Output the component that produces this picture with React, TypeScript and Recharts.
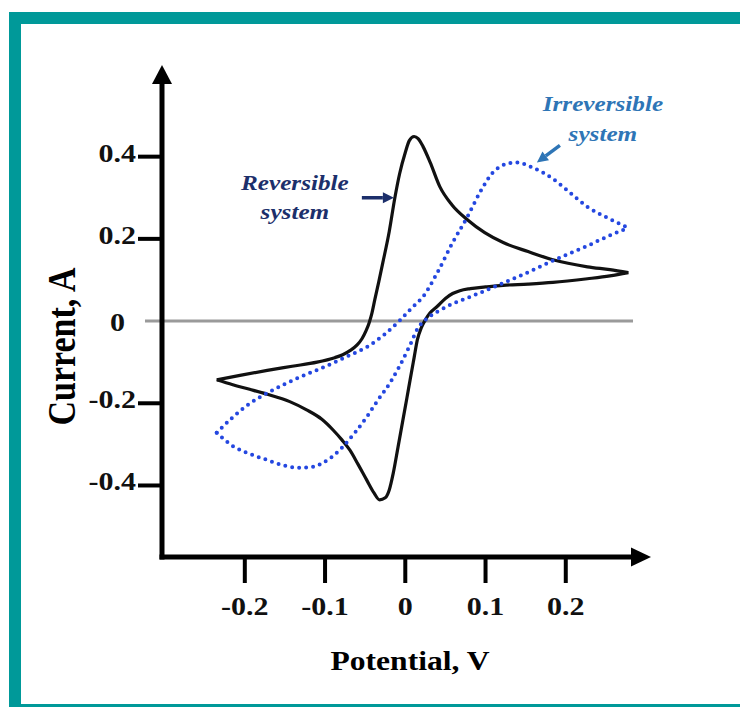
import React from "react";
import { Label, Line, LineChart, ReferenceDot, ReferenceLine, XAxis, YAxis } from "recharts";

// Reversible couple, anodic (forward) sweep: potential in V, current in A
const revAnodicV = [-0.235, -0.206, -0.172, -0.141, -0.11, -0.088, -0.078, -0.069, -0.06, -0.054, -0.049, -0.045, -0.0415, -0.038, -0.033, -0.028, -0.02, -0.013, -0.007, 0.0, 0.005, 0.011, 0.016, 0.022, 0.031, 0.043, 0.058, 0.077, 0.099, 0.122, 0.153, 0.184, 0.227, 0.255, 0.278];
const revAnodicI = [-0.143, -0.132, -0.12, -0.11, -0.1, -0.089, -0.082, -0.072, -0.058, -0.043, -0.024, -0.004, 0.02, 0.052, 0.096, 0.142, 0.218, 0.3, 0.359, 0.41, 0.439, 0.449, 0.444, 0.425, 0.386, 0.327, 0.283, 0.247, 0.215, 0.191, 0.169, 0.149, 0.132, 0.125, 0.118];

// Reversible couple, cathodic (return) sweep
const revCathodicV = [-0.235, -0.215, -0.194, -0.172, -0.144, -0.123, -0.104, -0.09, -0.079, -0.069, -0.059, -0.048, -0.039, -0.032, -0.025, -0.02, -0.015, -0.009, -0.003, 0.002, 0.006, 0.011, 0.015, 0.02, 0.025, 0.031, 0.04, 0.05, 0.059, 0.068, 0.081, 0.1, 0.122, 0.153, 0.184, 0.227, 0.255, 0.278];
const revCathodicI = [-0.143, -0.155, -0.166, -0.178, -0.196, -0.216, -0.239, -0.265, -0.289, -0.314, -0.348, -0.387, -0.418, -0.435, -0.43, -0.411, -0.37, -0.306, -0.241, -0.187, -0.143, -0.089, -0.046, -0.016, 0.003, 0.02, 0.036, 0.055, 0.067, 0.074, 0.079, 0.083, 0.087, 0.09, 0.094, 0.103, 0.11, 0.118];

// Irreversible couple, anodic sweep
const irrAnodicV = [-0.235, -0.215, -0.194, -0.172, -0.15, -0.131, -0.11, -0.09, -0.069, -0.048, -0.025, -0.007, 0.008, 0.022, 0.04, 0.059, 0.077, 0.093, 0.109, 0.124, 0.139, 0.159, 0.184, 0.205, 0.227, 0.251, 0.278];
const irrAnodicI = [-0.272, -0.234, -0.201, -0.175, -0.153, -0.136, -0.119, -0.102, -0.083, -0.063, -0.031, 0.001, 0.032, 0.059, 0.118, 0.191, 0.252, 0.313, 0.361, 0.381, 0.386, 0.373, 0.346, 0.313, 0.278, 0.252, 0.227];

// Irreversible couple, cathodic sweep
const irrCathodicV = [-0.235, -0.215, -0.194, -0.172, -0.15, -0.131, -0.116, -0.103, -0.09, -0.078, -0.063, -0.048, -0.034, -0.019, -0.007, 0.006, 0.016, 0.025, 0.04, 0.059, 0.081, 0.114, 0.143, 0.184, 0.227, 0.251, 0.278];
const irrCathodicI = [-0.272, -0.304, -0.323, -0.338, -0.352, -0.357, -0.355, -0.345, -0.328, -0.306, -0.272, -0.233, -0.192, -0.15, -0.109, -0.058, -0.016, 0.003, 0.023, 0.042, 0.059, 0.086, 0.11, 0.147, 0.183, 0.205, 0.227];

const xTicks = [-0.2, -0.1, 0, 0.1, 0.2];
const yTicks = [-0.4, -0.2, 0, 0.2, 0.4];

// where the annotation arrows point (V, A)
const reversibleTip = { v: -0.013, i: 0.3 };
const irreversibleTip = { v: 0.164, i: 0.386 };

const X_DOMAIN: [number, number] = [-0.3032, 0.2925];
const Y_DOMAIN: [number, number] = [-0.574, 0.5865];
const ZERO_LINE: [number, number] = [-0.3244, 0.2838];

const TEAL = "#009999";
const CURVE = "#111111";
const DOTS = "#2447e0";
const NAVY = "#1c2f6b";
const STEEL = "#2e75b6";
const SERIF = "'Liberation Serif', 'Times New Roman', serif";
const STRETCH = 1.2;

const zip = (v: number[], i: number[]) => v.map((x, k) => ({ v: x, i: i[k] }));

const revAnodic = zip(revAnodicV, revAnodicI);
const revCathodic = zip(revCathodicV, revCathodicI);
const irrAnodic = zip(irrAnodicV, irrAnodicI);
const irrCathodic = zip(irrCathodicV, irrCathodicI);

function Arrow({ x1, y1, x2, y2, color }: { x1: number; y1: number; x2: number; y2: number; color: string }) {
  const len = Math.hypot(x2 - x1, y2 - y1);
  const ux = (x2 - x1) / len;
  const uy = (y2 - y1) / len;
  const head = 11;
  const bx = x2 - ux * head;
  const by = y2 - uy * head;
  const px = -uy * 5.5;
  const py = ux * 5.5;
  return (
    <g>
      <line x1={x1} y1={y1} x2={bx} y2={by} stroke={color} strokeWidth={3.5} />
      <polygon points={`${x2},${y2} ${bx + px},${by + py} ${bx - px},${by - py}`} fill={color} />
    </g>
  );
}

function StretchText(props: { x: number; y: number; size: number; color: string; italic?: boolean; anchor?: string; children: React.ReactNode }) {
  const { x, y, size, color, italic, anchor = "middle", children } = props;
  return (
    <text
      transform={`translate(${x}, ${y}) scale(${STRETCH}, 1)`}
      textAnchor={anchor}
      fontFamily={SERIF}
      fontWeight="bold"
      fontStyle={italic ? "italic" : "normal"}
      fontSize={size}
      fill={color}
    >
      {children}
    </text>
  );
}

const renderXTick = (props: any) => {
  const { x, y, payload } = props;
  return (
    <StretchText x={x} y={y + 30} size={25} color="#111">
      {String(payload.value)}
    </StretchText>
  );
};

const renderYTick = (props: any) => {
  const { x, y, payload } = props;
  const zero = payload.value === 0;
  return (
    <g>
      {!zero && <line x1={x + 2} x2={x + 26} y1={y} y2={y} stroke="#000" strokeWidth={4} />}
      <StretchText x={zero ? x - 11 : x} y={zero ? y + 10 : y + 5} size={25} color="#111" anchor="end">
        {String(payload.value)}
      </StretchText>
    </g>
  );
};

const renderXTitle = (props: any) => {
  const { x, y, width, height } = props.viewBox;
  return (
    <text
      transform={`translate(${x + width / 2 + 9}, ${y + height}) scale(1.17, 1)`}
      textAnchor="middle"
      fontFamily={SERIF}
      fontWeight="bold"
      fontSize={27}
      fill="#000"
    >
      Potential, V
    </text>
  );
};

const renderYTitle = (props: any) => {
  const { x, y, height } = props.viewBox;
  return (
    <text
      transform={`translate(${x + 61}, ${y + height / 2 + 28}) scale(${STRETCH}, 1) rotate(-90)`}
      textAnchor="middle"
      dy="0.35em"
      fontFamily={SERIF}
      fontWeight="bold"
      fontSize={34}
      fill="#000"
    >
      Current, A
    </text>
  );
};

const xArrowHead = ({ cx, cy }: any) => (
  <polygon points={`${cx + 11},${cy} ${cx - 9},${cy - 9.5} ${cx - 9},${cy + 9.5}`} fill="#000" />
);

const yArrowHead = ({ cx, cy }: any) => (
  <polygon points={`${cx},${cy - 15} ${cx - 10},${cy + 4} ${cx + 10},${cy + 4}`} fill="#000" />
);

const reversibleNote = ({ cx, cy }: any) => (
  <g>
    <Arrow x1={cx - 33} y1={cy} x2={cx - 1} y2={cy} color={NAVY} />
    <StretchText x={cx - 100} y={cy - 8} size={21} color={NAVY} italic>
      Reversible
    </StretchText>
    <StretchText x={cx - 100} y={cy + 21} size={21} color={NAVY} italic>
      system
    </StretchText>
  </g>
);

const irreversibleNote = ({ cx, cy }: any) => (
  <g>
    <Arrow x1={cx + 23} y1={cy - 17} x2={cx} y2={cy} color={STEEL} />
    <StretchText x={cx + 66} y={cy - 51} size={21} color={STEEL} italic>
      Irreversible
    </StretchText>
    <StretchText x={cx + 66} y={cy - 21} size={21} color={STEEL} italic>
      system
    </StretchText>
  </g>
);

export default function App() {
  return (
    <div style={{ position: "absolute", left: 0, top: 0, width: 740, height: 707, background: "#fff" }}>
      <div
        style={{
          position: "absolute",
          left: 9,
          top: 12,
          width: 731,
          height: 695,
          boxSizing: "border-box",
          borderTop: `12px solid ${TEAL}`,
          borderLeft: `12px solid ${TEAL}`,
          borderBottom: `3px solid ${TEAL}`,
        }}
      />
      <div style={{ position: "absolute", left: 0, top: 0 }}>
        <LineChart width={740} height={707} margin={{ top: 80, right: 100, bottom: 37, left: 0 }}>
          <XAxis
            type="number"
            dataKey="v"
            domain={X_DOMAIN}
            allowDataOverflow
            ticks={xTicks}
            height={113}
            tickSize={26}
            tickMargin={2}
            tickLine={{ stroke: "#000", strokeWidth: 4 }}
            axisLine={{ stroke: "#000", strokeWidth: 5, strokeLinecap: "square" }}
            tick={renderXTick}
          >
            <Label content={renderXTitle} />
          </XAxis>
          <YAxis
            type="number"
            domain={Y_DOMAIN}
            allowDataOverflow
            ticks={yTicks}
            width={162}
            tickSize={24}
            tickMargin={2}
            tickLine={false}
            axisLine={{ stroke: "#000", strokeWidth: 5, strokeLinecap: "square" }}
            tick={renderYTick}
          >
            <Label content={renderYTitle} />
          </YAxis>

          <ReferenceLine
            segment={[
              { x: ZERO_LINE[0], y: 0 },
              { x: ZERO_LINE[1], y: 0 },
            ]}
            stroke="#9a9a9a"
            strokeWidth={3}
            ifOverflow="visible"
          />

          <Line data={revAnodic} dataKey="i" type="monotone" stroke={CURVE} strokeWidth={3.2} dot={false} activeDot={false} isAnimationActive={false} />
          <Line data={revCathodic} dataKey="i" type="monotone" stroke={CURVE} strokeWidth={3.2} dot={false} activeDot={false} isAnimationActive={false} />
          <Line data={irrAnodic} dataKey="i" type="monotone" stroke={DOTS} strokeWidth={4} strokeDasharray="0 7" strokeLinecap="round" dot={false} activeDot={false} isAnimationActive={false} />
          <Line data={irrCathodic} dataKey="i" type="monotone" stroke={DOTS} strokeWidth={4} strokeDasharray="0 7" strokeLinecap="round" dot={false} activeDot={false} isAnimationActive={false} />

          <ReferenceDot x={X_DOMAIN[1]} y={Y_DOMAIN[0]} ifOverflow="visible" shape={xArrowHead} />
          <ReferenceDot x={X_DOMAIN[0]} y={Y_DOMAIN[1]} ifOverflow="visible" shape={yArrowHead} />
          <ReferenceDot x={reversibleTip.v} y={reversibleTip.i} ifOverflow="visible" shape={reversibleNote} />
          <ReferenceDot x={irreversibleTip.v} y={irreversibleTip.i} ifOverflow="visible" shape={irreversibleNote} />
        </LineChart>
      </div>
    </div>
  );
}
